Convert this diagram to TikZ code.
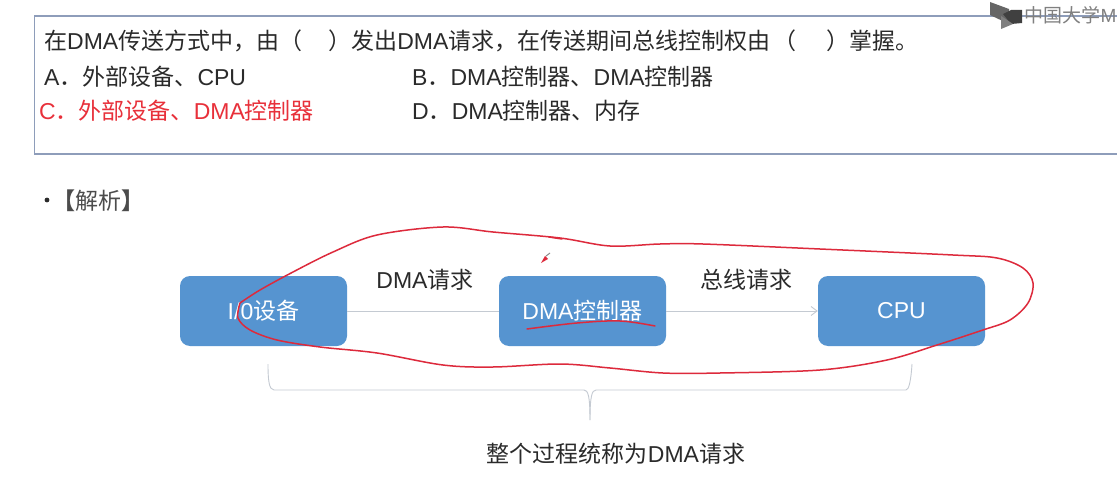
\documentclass[tikz,border=0pt]{standalone}
\usepackage{fontspec}
\setmainfont{Noto Sans CJK SC}
\newfontfamily\lat{Liberation Sans}
\newcommand{\la}[1]{{\lat #1}}
\usetikzlibrary{arrows.meta}
\definecolor{boxblue}{HTML}{5694D0}
\definecolor{framec}{HTML}{8E9DBA}
\definecolor{linec}{HTML}{C4CAD2}
\definecolor{inkc}{HTML}{2A2A2A}
\definecolor{redc}{HTML}{E8303A}
\definecolor{scrib}{HTML}{DD2A3C}
\tikzset{
  x=1pt,y=-1pt,
  qtext/.style={anchor=base west,inner sep=0pt,text=inkc,font=\fontsize{23}{27}\selectfont},
  blk/.style={draw=none,fill=boxblue,rounded corners=10pt,minimum width=167pt,minimum height=70pt,inner sep=0pt,text=white,font=\fontsize{23}{27}\selectfont},
  lbl/.style={anchor=base,inner sep=0pt,text=inkc,font=\fontsize{23}{27}\selectfont},
  conn/.style={draw=linec,line width=0.9pt},
  scribble/.style={draw=scrib,line width=1.5pt,line cap=round,line join=round}
}
\begin{document}
\begin{tikzpicture}
\useasboundingbox (0,0) rectangle (1117,503);
\fill[white] (0,0) rectangle (1117,503);
% question frame
\draw[framec,line width=1.4pt] (1118,16) -- (34.5,16) -- (34.5,154) -- (1118,154);
\node[qtext] (q) at (44,50) {在\la{DMA}传送方式中，由（\hspace{26pt}）发出\la{DMA}请求，在传送期间总线控制权由\hspace{3pt}（\hspace{30pt}）掌握。};
\node[qtext] (oa) at (44,85) {\la{A}．外部设备、\la{CPU}};
\node[qtext] (ob) at (412,85) {\la{B}．\la{DMA}控制器、\la{DMA}控制器};
\node[qtext,text=redc] (oc) at (39,120) {\la{C}．外部设备、\la{DMA}控制器};
\node[qtext] (od) at (412,119) {\la{D}．\la{DMA}控制器、内存};
% logo
\fill[black!60] (990,2) -- (1009,9) -- (1009,24) -- (990,15) -- cycle;
\fill[black!75] (1003,14) -- (1011,10) -- (1022,10) -- (1022,23) -- (1011,24) -- cycle;
\fill[black!50] (1001,16) -- (1013,24) -- (1001,29) -- cycle;
\node[anchor=base west,inner sep=0pt,text=black!50,font=\fontsize{19}{23}\selectfont] (logo) at (1024.5,23) {中国大学\la{M}};
% analysis heading
\fill[inkc] (47,200) circle (2.4pt) coordinate (bul);
\node[anchor=base west,inner sep=0pt,text=black!70,font=\fontsize{23}{27}\selectfont] (hd) at (52,209) {\textbf{【}解析\textbf{】}};
% blocks
\node[blk] (io) at (263.5,311) {\la{I/0}设备};
\node[blk] (dma) at (582.5,311) {\la{DMA}控制器};
\node[blk] (cpu) at (901.5,311) {\la{CPU}};
\draw[conn] (io) -- (dma);
\draw[conn,-{Straight Barb[length=6pt,width=9pt]}] (dma) -- (cpu);
\node[lbl] (l1) at (425,288) {\la{DMA}请求};
\node[lbl] (l2) at (746,288) {总线请求};
% brace
\coordinate (bl) at (268,364);
\coordinate (br) at (912,364);
\coordinate (bt) at (590,420);
\draw[conn] (bl) .. controls (268,380) and (269,390) .. (274,390) -- (584,390) .. controls (588,390) and (590,396) .. (bt);
\draw[conn] (bt) .. controls (590,396) and (592,390) .. (596,390) -- (906,390) .. controls (909,390) and (911,380) .. (br);
\node[lbl] (cap) at (616,462) {整个过程统称为\la{DMA}请求};
% red scribbles
\draw[scribble] plot[smooth,tension=0.55] coordinates {
 (240,303) (260,290) (293,272) (333,252) (377,235) (443,227) (493,232) (560,238) (610,246) (660,244)
 (703,244) (820,249) (953,255) (997,258) (1023,268) (1033,283) (1028,303) (1010,320) (983,330) (937,345)
 (887,360) (820,370) (720,373) (663,373) (610,368) (560,364) (493,367) (443,365) (377,353) (320,347)
 (277,340) (250,330) (238,318) (240,303)};
\draw[scribble] plot[smooth,tension=0.6] coordinates {(527,329) (577,323) (620,321) (655,326)};
\draw[scribble] (549,237) -- (562,239);
% pencil cursor
\fill[scrib] (541,263) -- (545,256) -- (548,259) -- cycle;
\draw[black!45,line width=1pt] (546,256) -- (550,253);
\end{tikzpicture}
\end{document}
